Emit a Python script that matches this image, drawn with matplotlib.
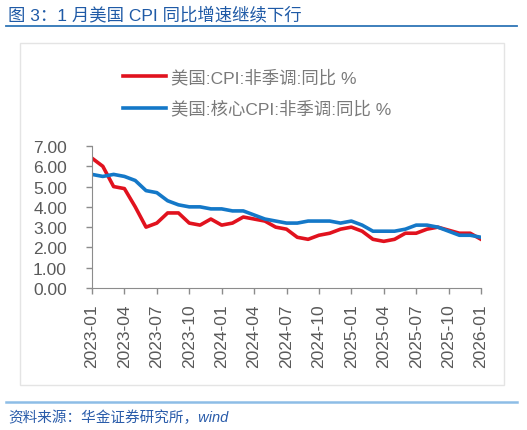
import matplotlib
matplotlib.use("Agg")
import matplotlib.pyplot as plt
import numpy as np
from matplotlib.lines import Line2D
from matplotlib.patches import Rectangle

plt.rcParams['font.family'] = ['Liberation Sans', 'Noto Sans CJK SC', 'DejaVu Sans']

# monthly, 2023-01 .. 2026-01 (2025-10 not published)
months = [f'{y}-{m:02d}' for y in (2023, 2024, 2025) for m in range(1, 13)] + ['2026-01']
cpi = [6.4, 6.0, 5.0, 4.9, 4.0, 3.0, 3.2, 3.7, 3.7, 3.2, 3.1, 3.4,
       3.1, 3.2, 3.5, 3.4, 3.3, 3.0, 2.9, 2.5, 2.4, 2.6, 2.7, 2.9,
       3.0, 2.8, 2.4, 2.3, 2.4, 2.7, 2.7, 2.9, 3.0, np.nan, 2.7, 2.7,
       2.4]
core_cpi = [5.6, 5.5, 5.6, 5.5, 5.3, 4.8, 4.7, 4.3, 4.1, 4.0, 4.0, 3.9,
            3.9, 3.8, 3.8, 3.6, 3.4, 3.3, 3.2, 3.2, 3.3, 3.3, 3.3, 3.2,
            3.3, 3.1, 2.8, 2.8, 2.8, 2.9, 3.1, 3.1, 3.0, np.nan, 2.6, 2.6,
            2.5]
label_cpi = '美国:CPI:非季调:同比 %'
label_core = '美国:核心CPI:非季调:同比 %'

W, H = 527, 431
fig = plt.figure(figsize=(W / 100, H / 100), dpi=100)

def fx(px):
    return px / W

def fy(py):
    return 1 - py / H

# title + rule
fig.text(fx(8), fy(15), '图 3：1 月美国 CPI 同比增速继续下行', fontsize=12.5,
         color='#1F5AA6', va='center', ha='left')
fig.add_artist(Line2D([fx(6), fx(517)], [fy(27), fy(27)], color='#2E75B6', lw=1.3))

# light frame around the chart
fig.add_artist(Rectangle((fx(20), fy(386)), fx(504) - fx(20), fy(44) - fy(386),
                         fill=False, edgecolor='#E4E4E4', lw=1.0))

ax = fig.add_axes([fx(92), fy(289), fx(481) - fx(92), fy(147) - fy(289)])
x = np.arange(len(months))
cpi_arr = np.array(cpi)
core_arr = np.array(core_cpi)
ok1 = ~np.isnan(cpi_arr)
ok2 = ~np.isnan(core_arr)
l1, = ax.plot(x[ok1], cpi_arr[ok1], color='#E1121E', lw=2.6, label=label_cpi)
l2, = ax.plot(x[ok2], core_arr[ok2], color='#1478C8', lw=2.6, label=label_core)

ax.set_xlim(0, len(months) - 1)
ax.set_ylim(0, 7)
ax.set_yticks(np.arange(0, 8, 1))
ax.set_yticklabels([f'{v:.2f}' for v in range(8)])
ax.set_xticks(x[::3])
ax.set_xticklabels(months[::3], rotation=90)
ax.tick_params(axis='both', colors='#8C8C8C', labelcolor='#595959', labelsize=12.5,
               length=4, width=1, direction='out')
ax.tick_params(axis='y', pad=14)
ax.tick_params(axis='x', pad=7)
for s in ('top', 'right'):
    ax.spines[s].set_visible(False)
for s in ('left', 'bottom'):
    ax.spines[s].set_color('#8C8C8C')
ax.set_facecolor('none')

fig.legend(handles=[l1, l2], loc='upper left', bbox_to_anchor=(fx(107), fy(54)),
           frameon=False, fontsize=12.5, handlelength=2.5, handletextpad=0.3,
           labelspacing=0.85, labelcolor='#7A7A7A')

# source
fig.add_artist(Line2D([fx(6), fx(517)], [fy(403), fy(403)], color='#8DBDE6', lw=1.8))
fig.text(fx(8), fy(418), '资料来源：华金证券研究所，wind', fontsize=10.5,
         color='#2A5CAA', style='italic', va='center', ha='left')

fig.savefig('out.png', dpi=100)
